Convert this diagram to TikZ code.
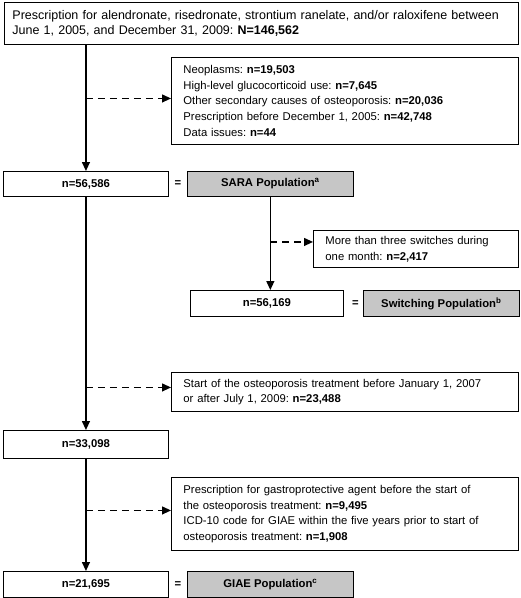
\documentclass[tikz,border=0pt]{standalone}
\usepackage{fontspec}
\setmainfont{Liberation Sans}
\usetikzlibrary{arrows.meta,positioning}
\frenchspacing

\newcommand{\flowfont}{\fontsize{11.3}{15.7}\selectfont}

\tikzset{
	box/.style={draw, line width=0.9pt, inner xsep=12pt, align=left, anchor=north west},
	countbox/.style={draw, line width=0.9pt, font=\flowfont\bfseries, align=center, anchor=north west, minimum height=25pt},
	popbox/.style={countbox, fill=gray!45},
	eqsign/.style={inner sep=0pt, font=\flowfont\bfseries},
	excluded/.style={dashed, dash pattern=on 7pt off 5pt},
}

\begin{document}
\begin{tikzpicture}[x=1pt,y=-1pt,->,>={Triangle[length=9pt,width=8pt]},line width=1.2pt,font=\flowfont]
	\useasboundingbox (0,0) rectangle (521,598);

	\node[box, inner xsep=8pt, text width=498pt, minimum height=42pt, font=\fontsize{12.5}{15.7}\selectfont] (top) at (4,2)
		{Prescription for alendronate, risedronate, strontium ranelate, and/or raloxifene between\\
		June 1, 2005, and December 31, 2009: \textbf{N=146,562}};
	\node[box, text width=323pt, minimum height=87pt] (excl1) at (171,57)
		{Neoplasms: \textbf{n=19,503}\\
		High-level glucocorticoid use: \textbf{n=7,645}\\
		Other secondary causes of osteoporosis: \textbf{n=20,036}\\
		Prescription before December 1, 2005: \textbf{n=42,748}\\
		Data issues: \textbf{n=44}};

	\node[countbox, minimum width=165pt] (N1) at (3,171) {n=56,586};
	\node[eqsign] (eq1) [right=5pt of N1] {=};
	\node[popbox, minimum width=166pt] (sara) [right=18pt of N1] {SARA Population\textsuperscript{a}};

	\node[box, text width=181pt, minimum height=37pt] (excl2) at (313,230)
		{More than three switches during\\
		one month: \textbf{n=2,417}};
	\node[countbox, minimum width=153pt, minimum height=26pt] (N2) at (190,290) {n=56,169};
	\node[eqsign] (eq2) [right=7.5pt of N2] {=};
	\node[popbox, minimum width=156pt, minimum height=26pt] (switch) [right=19pt of N2] {Switching Population\textsuperscript{b}};

	\node[box, text width=323pt, minimum height=39pt] (excl3) at (171,372)
		{Start of the osteoporosis treatment before January 1, 2007\\
		or after July 1, 2009: \textbf{n=23,488}};
	\node[countbox, minimum width=165pt, minimum height=28pt] (N3) at (3,430) {n=33,098};

	\node[box, text width=323pt, minimum height=73pt] (excl4) at (171,477)
		{Prescription for gastroprotective agent before the start of\\
		the osteoporosis treatment: \textbf{n=9,495}\\
		ICD-10 code for GIAE within the five years prior to start of\\
		osteoporosis treatment: \textbf{n=1,908}};
	\node[countbox, minimum width=165pt, minimum height=26pt] (N4) at (3,571) {n=21,695};
	\node[eqsign] (eq3) [right=5pt of N4] {=};
	\node[popbox, minimum width=166pt, minimum height=26pt] (giae) [right=18pt of N4] {GIAE Population\textsuperscript{c}};

	\draw (top.south -| N1) -- (N1.north);
	\draw (N1.south) -- (N3.north);
	\draw (N3.south) -- (N4.north);
	\draw (sara.south) -- (sara.south |- N2.north);

	\draw[excluded] ([yshift=2.5pt]excl1.west -| N1) -- ([yshift=2.5pt]excl1.west);
	\draw[excluded] ([yshift=7pt]excl2.west -| sara) -- ([yshift=7pt]excl2.west);
	\draw[excluded] ([yshift=4.5pt]excl3.west -| N1) -- ([yshift=4.5pt]excl3.west);
	\draw[excluded] ([yshift=3.5pt]excl4.west -| N1) -- ([yshift=3.5pt]excl4.west);
\end{tikzpicture}
\end{document}
